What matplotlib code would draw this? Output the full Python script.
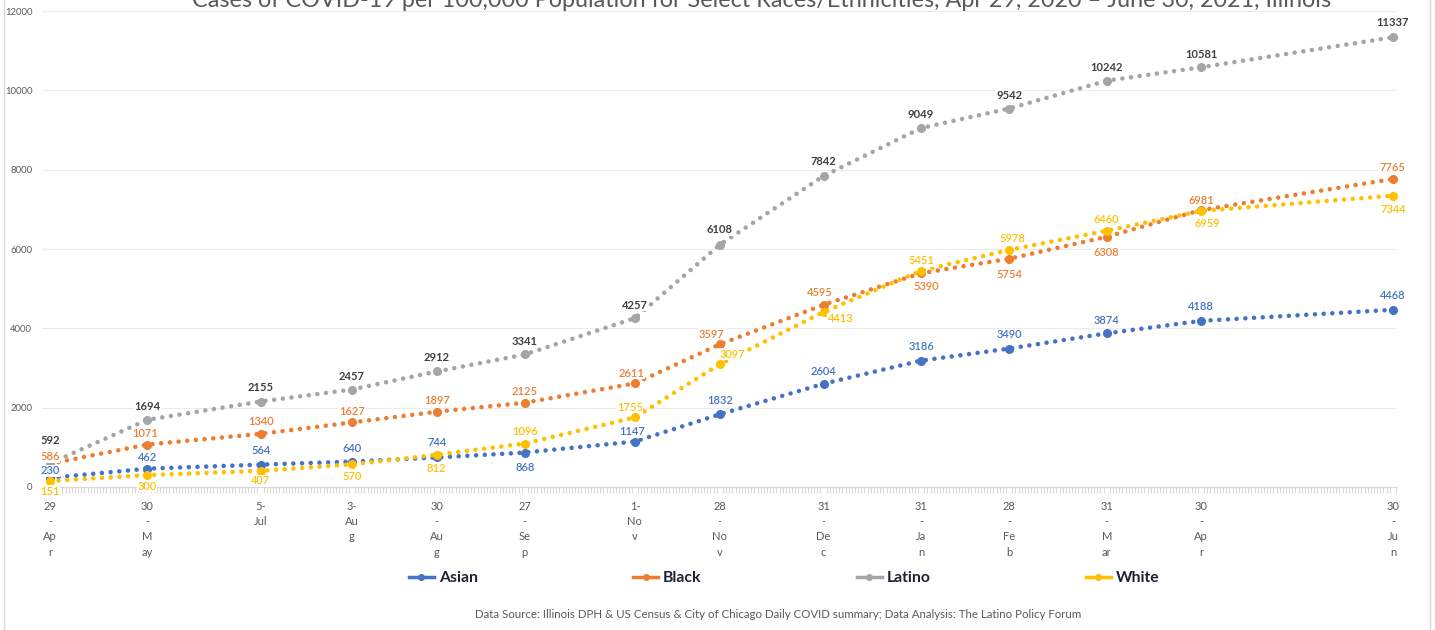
import matplotlib
matplotlib.use('Agg')
import matplotlib.pyplot as plt
import matplotlib.dates as mdates
from matplotlib.patches import Rectangle
import pandas as pd

# ---------------- data ----------------
dates = ["2020-04-29", "2020-05-30", "2020-07-05", "2020-08-03", "2020-08-30",
         "2020-09-27", "2020-11-01", "2020-11-28", "2020-12-31", "2021-01-31",
         "2021-02-28", "2021-03-31", "2021-04-30", "2021-06-30"]
tick_labels = ["29\n-\nAp\nr", "30\n-\nM\nay", "5-\nJul", "3-\nAu\ng", "30\n-\nAu\ng",
               "27\n-\nSe\np", "1-\nNo\nv", "28\n-\nNo\nv", "31\n-\nDe\nc", "31\n-\nJa\nn",
               "28\n-\nFe\nb", "31\n-\nM\nar", "30\n-\nAp\nr", "30\n-\nJu\nn"]
asian = [230, 462, 564, 640, 744, 868, 1147, 1832, 2604, 3186, 3490, 3874, 4188, 4468]
black = [586, 1071, 1340, 1627, 1897, 2125, 2611, 3597, 4595, 5390, 5754, 6308, 6981, 7765]
latino = [592, 1694, 2155, 2457, 2912, 3341, 4257, 6108, 7842, 9049, 9542, 10242, 10581, 11337]
white = [151, 300, 407, 570, 812, 1096, 1755, 3097, 4413, 5451, 5978, 6460, 6959, 7344]
series_names = ["Asian", "Black", "Latino", "White"]
title = "Cases of COVID-19 per 100,000 Population for Select Races/Ethnicities, Apr 29, 2020 \u2013 June 30, 2021, Illinois"
footer = "Data Source: Illinois DPH & US Census & City of Chicago Daily COVID summary; Data Analysis: The Latino Policy Forum"

# ---------------- style ----------------
colors = {"Asian": "#4472C4", "Black": "#ED7D31", "Latino": "#A5A5A5", "White": "#FFC000"}
label_colors = {"Asian": "#4472C4", "Black": "#ED7D31", "Latino": "#404040", "White": "#FFC000"}
label_offsets = {  # pixel offsets (dx, dy) of data labels
    "Asian": [(0, 7), (0, 11), (0, 14), (0, 13), (0, 15), (0, -15), (-3, 10), (0, 14),
              (0, 12), (0, 14), (0, 14), (0, 13), (0, 14), (0, 14)],
    "Black": [(0, 7), (-2, 11), (0, 12), (0, 11), (0, 11), (0, 11), (-3, 10), (-8, 10),
              (-4, 12), (5, -13), (0, -16), (0, -16), (0, 10), (0, 11)],
    "Latino": [(0, 23), (0, 13), (0, 14), (0, 13), (0, 14), (0, 13), (0, 13), (0, 15),
               (0, 14), (0, 14), (0, 13), (0, 13), (0, 13), (0, 15)],
    "White": [(0, -10), (0, -11), (0, -10), (0, -12), (0, -14), (0, 12), (-5, 10), (13, 10),
              (17, -7), (0, 10), (3, 11), (0, 11), (6, -13), (0, -14)],
}

plt.rcParams['font.family'] = ['Lato', 'DejaVu Sans']

fig = plt.figure(figsize=(14.35, 6.3), dpi=100)
ax = fig.add_axes([42 / 1435, 1 - 487 / 630, (1397 - 42) / 1435, (487 - 11) / 630])

x = pd.to_datetime(dates)
values = {"Asian": asian, "Black": black, "Latino": latino, "White": white}

for name in series_names:
    y = values[name]
    c = colors[name]
    ax.plot(x, y, color=c, lw=3.3, linestyle=(0, (0.001, 1.9)),
            dash_capstyle='round', solid_capstyle='round', zorder=3)
    ax.plot(x, y, linestyle='none', marker='o', markersize=5.5, color=c, zorder=4)

for name in series_names:
    y = values[name]
    for xi, yi, (dx, dy) in zip(x, y, label_offsets[name]):
        ax.annotate(str(yi), (xi, yi), xytext=(dx, dy), textcoords='offset pixels',
                    ha='center', va='center', fontsize=8,
                    color=label_colors[name],
                    fontweight='bold' if name == "Latino" else 'semibold',
                    bbox=dict(boxstyle='square,pad=0.05', fc='white', ec='none'),
                    zorder=5)

ax.set_ylim(0, 12000)
ax.set_yticks(range(0, 12001, 2000))
ax.set_xlim(x[0] - pd.Timedelta(days=2.5), x[-1] + pd.Timedelta(days=1.3))
ax.set_xticks(x)
ax.set_xticklabels(tick_labels, fontsize=8, color='#595959', linespacing=1.47)
ax.xaxis.set_minor_locator(mdates.DayLocator())
ax.tick_params(axis='x', which='major', length=0, pad=10)
ax.tick_params(axis='x', which='minor', length=4, color='#d9d9d9', width=0.8)
ax.tick_params(axis='y', length=0, labelsize=6.8, labelcolor='#595959', pad=7)
ax.grid(axis='y', color='#ececec', lw=0.8)
ax.set_axisbelow(True)
for s in ['left', 'right', 'top']:
    ax.spines[s].set_visible(False)
ax.spines['bottom'].set_color('#d9d9d9')

fig.text(762 / 1435, 1 - 7 / 630, title, ha='center', va='baseline',
         fontsize=16.8, color='#595959')

handles = [plt.Line2D([], [], color=colors[n], lw=2.5, marker='o', markersize=4) for n in series_names]
leg = fig.legend(handles, series_names, loc='center', bbox_to_anchor=(784 / 1435, 1 - 578 / 630),
                 ncol=4, frameon=False, handlelength=1.6, handletextpad=0.3,
                 columnspacing=9.9, prop={'size': 11.3, 'weight': 'bold'})
for t in leg.get_texts():
    t.set_color('#1f2233')

fig.text(778 / 1435, 1 - 615 / 630, footer, ha='center', va='center', fontsize=8.3, color='#595959')

fig.patches.append(Rectangle((4 / 1435, -0.1), (1430 - 4) / 1435, 1.2, transform=fig.transFigure,
                             fill=False, ec='#d9d9d9', lw=1))

fig.savefig('out.png', dpi=100)
